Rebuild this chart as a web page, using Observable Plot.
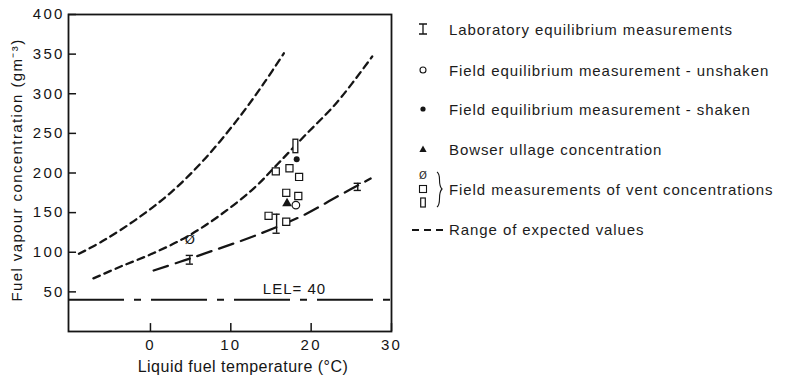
<!DOCTYPE html>
<html><head><meta charset="utf-8">
<script src="https://cdn.jsdelivr.net/npm/d3@7"></script>
<script src="https://cdn.jsdelivr.net/npm/@observablehq/plot@0.6"></script>
<style>
body{margin:0;background:#fff;}
#wrap{position:relative;width:790px;height:377px;overflow:hidden;}
#legend{position:absolute;left:0;top:0;pointer-events:none;}
#legend text{font-family:"Liberation Sans",Arial,sans-serif;font-size:15px;letter-spacing:0.92px;fill:#1c1c1c;}
</style></head><body><div id="wrap"></div>
<script>
// ---- data ----
const xTicks = [0, 10, 20, 30];
const yTicks = [50, 100, 150, 200, 250, 300, 350, 400];
const xDomain = [-10.2, 30];
const yDomain = [0, 400];

// Range of expected values (three dashed curves)
const upperCurveT = [-8.9, -5.8, -1.7, 2.5, 6.6, 10.8, 14.1, 16.6];
const upperCurveC = [98, 115, 142, 175, 216, 267, 313, 351];
const middleCurveT = [-7.1, -3.7, 0.4, 4.6, 8.7, 12.9, 15.8, 19.1, 23.2, 27.6];
const middleCurveC = [67, 82, 99, 120, 147, 181, 211, 246, 289, 347];
const lowerCurveT = [0.4, 3.7, 7.5, 13.3, 19.1, 23.2, 27.4];
const lowerCurveC = [77, 88, 101, 122, 147, 170, 193];

// Laboratory equilibrium measurements (ranges)
const labT = [4.9, 15.7, 25.8];
const labLow = [85, 124, 178];
const labHigh = [96, 148, 187];

// Field equilibrium measurements
const unshakenT = [18.1], unshakenC = [159.5];
const shakenT = [18.2], shakenC = [217.5];
// Bowser ullage
const bowserT = [17.0], bowserC = [161.6];
// Field vent concentrations
const ventSlashT = [4.9], ventSlashC = [116];
const ventSquareT = [15.6, 17.3, 18.5, 16.9, 18.4, 14.7, 16.9];
const ventSquareC = [202, 206, 195, 175, 171, 146, 138.5];
const ventRangeT = [18.1], ventRangeLow = [225], ventRangeHigh = [242];

const lel = 40;

const xTitle = "Liquid fuel temperature (°C)";
const yTitle = "Fuel vapour concentration (gm⁻³)";
const legendLabels = [
  "Laboratory equilibrium measurements",
  "Field equilibrium measurement - unshaken",
  "Field equilibrium measurement - shaken",
  "Bowser ullage concentration",
  "Field measurements of vent concentrations",
  "Range of expected values"
];

// ---- build tables ----
const zip = (xs, ys) => xs.map((t, i) => ({t, c: ys[i]}));
const curves = [
  ...zip(upperCurveT, upperCurveC).map(d => ({...d, k: "upper"})),
  ...zip(middleCurveT, middleCurveC).map(d => ({...d, k: "middle"}))
];
const lower = zip(lowerCurveT, lowerCurveC);
const lab = labT.map((t, i) => ({t, lo: labLow[i], hi: labHigh[i]}));
const ventRange = ventRangeT.map((t, i) => ({t, lo: ventRangeLow[i], hi: ventRangeHigh[i]}));
const ink = "#151515";

const chart = Plot.plot({
  width: 790, height: 377,
  marginLeft: 68, marginRight: 399, marginTop: 14, marginBottom: 46,
  style: {fontFamily: "'Liberation Sans', Arial, sans-serif", fontSize: "15px", color: ink, background: "white", overflow: "visible"},
  x: {domain: xDomain},
  y: {domain: yDomain},
  marks: [
    Plot.axisX({ticks: xTicks, tickSize: 0, tickPadding: 8, label: null, fontSize: 15, tickFormat: d => d}),
    Plot.axisY({ticks: yTicks, tickSize: 0, tickPadding: 4, label: null, fontSize: 15, tickFormat: d => d}),
    Plot.ruleX(xTicks, {x: d => d, y1: yDomain[0], y2: yDomain[0] + 10, stroke: ink, strokeWidth: 1.5}),
    Plot.ruleY(yTicks, {y: d => d, x1: xDomain[0], x2: xDomain[0] + 1, stroke: ink, strokeWidth: 1.5}),
    Plot.frame({stroke: ink, strokeWidth: 1.8}),
    Plot.line(curves, {x: "t", y: "c", z: "k", curve: "catmull-rom", stroke: ink, strokeWidth: 2.3, strokeDasharray: "7,5"}),
    Plot.line(lower, {x: "t", y: "c", curve: "catmull-rom", stroke: ink, strokeWidth: 2.3, strokeDasharray: "15,8"}),
    Plot.ruleY([lel], {y: d => d, stroke: ink, strokeWidth: 2, strokeDasharray: "56,10,7,10"}),
    Plot.text([lel], {y: d => d, text: d => `LEL= ${d}`, frameAnchor: "right", textAnchor: "middle", dx: -97, dy: -11, fontSize: 15, fill: ink}),
    // lab ranges
    Plot.ruleX(lab, {x: "t", y1: "lo", y2: "hi", stroke: ink, strokeWidth: 1.4}),
    Plot.ruleY(lab, {y: "lo", x1: d => d.t - 0.45, x2: d => d.t + 0.45, stroke: ink, strokeWidth: 1.4}),
    Plot.ruleY(lab, {y: "hi", x1: d => d.t - 0.45, x2: d => d.t + 0.45, stroke: ink, strokeWidth: 1.4}),
    // vent squares
    Plot.dot(zip(ventSquareT, ventSquareC), {x: "t", y: "c", symbol: "square", r: 4, fill: "white", stroke: ink, strokeWidth: 1.2}),
    // vent range rectangle
    Plot.rect(ventRange, {x1: d => d.t - 0.3, x2: d => d.t + 0.3, y1: "lo", y2: "hi", fill: "white", stroke: ink, strokeWidth: 1.3}),
    // vent slashed circle
    Plot.text(zip(ventSlashT, ventSlashC), {x: "t", y: "c", text: () => "Ø", fontSize: 13, fill: ink, fontFamily: "DejaVu Sans"}),
    // field unshaken / shaken
    Plot.dot(zip(unshakenT, unshakenC), {x: "t", y: "c", r: 3.8, fill: "white", stroke: ink, strokeWidth: 1.2}),
    Plot.dot(zip(shakenT, shakenC), {x: "t", y: "c", r: 3, fill: ink}),
    // bowser
    Plot.dot(zip(bowserT, bowserC), {x: "t", y: "c", symbol: "triangle", r: 3.6, fill: ink}),
    // axis titles
    Plot.text([xTitle], {frameAnchor: "bottom", textAnchor: "middle", lineAnchor: "middle", dy: 35, dx: 13, fontSize: 16, fill: ink}),
    Plot.text([yTitle], {frameAnchor: "left", textAnchor: "middle", lineAnchor: "middle", rotate: -90, dx: -51, dy: -3, fontSize: 15, fill: ink})
  ]
});
// letter spacing to match the reference's wide typesetting
chart.querySelectorAll("text").forEach(t => {
  const s = t.textContent.trim();
  if (/^\d+$/.test(s)) t.style.letterSpacing = "2.2px";
  else if (s.startsWith("LEL")) t.style.letterSpacing = "1px";
  else if (s === xTitle) t.style.letterSpacing = "0.5px";
  else if (s === yTitle) t.style.letterSpacing = "1.4px";
});
document.getElementById("wrap").appendChild(chart);

// ---- legend (right side) ----
const ns = "http://www.w3.org/2000/svg";
const leg = document.createElementNS(ns, "svg");
leg.setAttribute("id", "legend");
leg.setAttribute("width", 790);
leg.setAttribute("height", 377);
const rows = [29, 70, 109, 149, 189, 229];
const sx = 423, tx = 449;
function el(name, attrs, parent = leg) {
  const e = document.createElementNS(ns, name);
  for (const k in attrs) e.setAttribute(k, attrs[k]);
  parent.appendChild(e);
  return e;
}
legendLabels.forEach((s, i) => {
  const t = el("text", {x: tx, y: rows[i], "dominant-baseline": "central"});
  t.textContent = s;
});
// I
el("path", {d: `M${sx-4},${rows[0]-5}H${sx+4}M${sx},${rows[0]-5}V${rows[0]+5}M${sx-4},${rows[0]+5}H${sx+4}`, stroke: ink, "stroke-width": 1.3, fill: "none"});
// open circle
el("circle", {cx: sx, cy: rows[1], r: 3, fill: "white", stroke: ink, "stroke-width": 1.1});
// filled
el("circle", {cx: sx, cy: rows[2], r: 2.6, fill: ink});
// triangle
el("path", {d: `M${sx},${rows[3]-3.5}L${sx+3.6},${rows[3]+3}L${sx-3.6},${rows[3]+3}Z`, fill: ink});
// vent group
const slash = el("text", {x: sx, y: rows[4] - 14, "text-anchor": "middle", "dominant-baseline": "central", style: "font-family:'DejaVu Sans';font-size:10px;letter-spacing:0"});
slash.textContent = "Ø";
el("rect", {x: sx - 3.5, y: rows[4] - 3.5, width: 7, height: 7, fill: "white", stroke: ink, "stroke-width": 1.1});
el("rect", {x: sx - 2.3, y: rows[4] + 9, width: 4.6, height: 9, fill: "white", stroke: ink, "stroke-width": 1.2});
// brace
const bx = 437, by = rows[4];
el("path", {d: `M${bx},${by-17} C${bx+5},${by-14} ${bx},${by-5} ${bx+5},${by} C${bx},${by+5} ${bx+5},${by+14} ${bx},${by+18}`, fill: "none", stroke: ink, "stroke-width": 1.1});
// dashes
el("line", {x1: 412, x2: 445, y1: rows[5] + 1, y2: rows[5] + 1, stroke: ink, "stroke-width": 2, "stroke-dasharray": "7,5"});
document.getElementById("wrap").appendChild(leg);
</script></body></html>
